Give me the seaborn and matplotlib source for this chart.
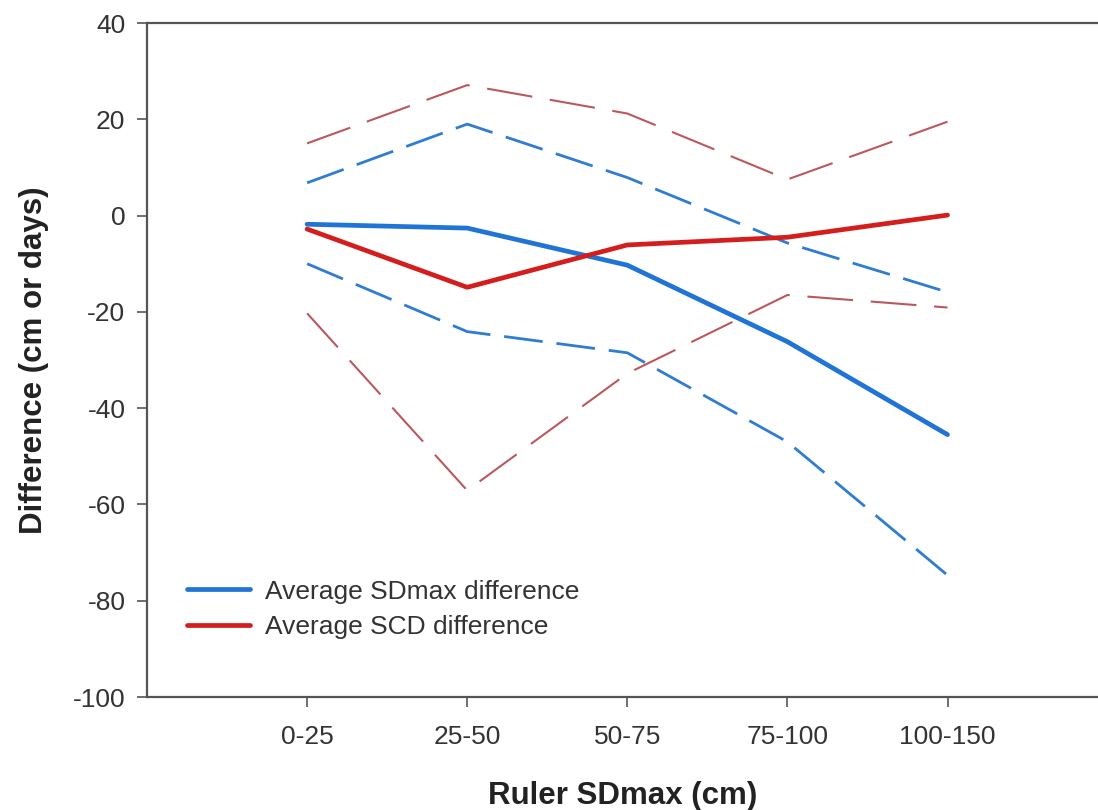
import matplotlib
matplotlib.use("Agg")
import matplotlib.pyplot as plt
import seaborn as sns

# Data
categories = ["0-25", "25-50", "50-75", "75-100", "100-150"]
sdmax_avg = [-1.8, -2.6, -10.3, -26.2, -45.5]
sdmax_upper = [6.8, 19.0, 7.9, -5.7, -15.9]
sdmax_lower = [-10.0, -24.1, -28.5, -47.0, -74.7]
scd_avg = [-2.8, -14.9, -6.1, -4.5, 0.1]
scd_upper = [15.0, 27.1, 21.2, 7.5, 19.5]
scd_lower = [-20.3, -57.1, -32.8, -16.5, -19.1]

sns.set_style("white")
plt.rcParams["font.family"] = ["Liberation Sans", "DejaVu Sans"]
plt.rcParams["axes.unicode_minus"] = False

fig = plt.figure(figsize=(10.98, 8.10), dpi=100)
ax = fig.add_axes([0.1339, 0.1395, 0.8661, 0.8321])

blue = "#1f74d6"
red = "#d41e1e"
blue_dash = "#2f7cd2"
red_dash = "#bb585e"

# dashed bounds
sns.lineplot(x=categories, y=sdmax_upper, ax=ax, color=blue_dash, lw=2.0,
             sort=False).lines[-1].set_dashes([14, 5])
sns.lineplot(x=categories, y=sdmax_lower, ax=ax, color=blue_dash, lw=2.0,
             sort=False).lines[-1].set_dashes([14, 5])
sns.lineplot(x=categories, y=scd_upper, ax=ax, color=red_dash, lw=1.5,
             sort=False).lines[-1].set_dashes([22, 8.5])
sns.lineplot(x=categories, y=scd_lower, ax=ax, color=red_dash, lw=1.5,
             sort=False).lines[-1].set_dashes([22, 8.5])

# averages
sns.lineplot(x=categories, y=sdmax_avg, ax=ax, color=blue, lw=3.4, sort=False,
             label="Average SDmax difference")
sns.lineplot(x=categories, y=scd_avg, ax=ax, color=red, lw=3.4, sort=False,
             label="Average SCD difference")

ax.set_xlim(-1, 4.94)
ax.set_ylim(-100, 40)
ax.set_yticks(range(-100, 41, 20))
ax.set_xticks(range(len(categories)))
ax.set_xticklabels(categories)

for side in ["left", "bottom", "top"]:
    ax.spines[side].set_color("#555555")
    ax.spines[side].set_linewidth(1.6)
ax.spines["right"].set_visible(False)

ax.tick_params(axis="both", direction="out", length=7.5, width=1.2, color="#555555",
               labelsize=19, labelcolor="#333333")
ax.tick_params(axis="x", pad=12.5)
ax.tick_params(axis="y", pad=8)
ax.tick_params(left=True, bottom=True)

ax.set_xlabel("Ruler SDmax (cm)", fontsize=22.5, fontweight="bold", labelpad=23,
              color="#222222")
ax.set_ylabel("Difference (cm or days)", fontsize=22.5, fontweight="bold", labelpad=17,
              color="#222222")

ax.legend(loc="upper left", bbox_to_anchor=(0.031, 0.19), borderaxespad=0,
          frameon=False, fontsize=19, handlelength=2.4, handletextpad=0.57,
          labelspacing=0.45, labelcolor="#333333")

fig.savefig("out.png", dpi=100)
